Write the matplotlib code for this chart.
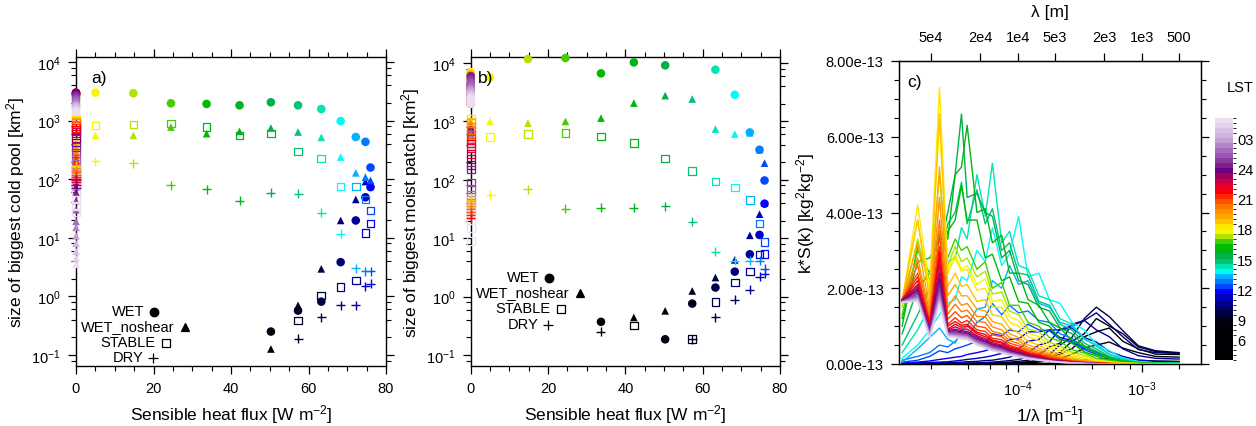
import numpy as np
import matplotlib
matplotlib.use("Agg")
import matplotlib.pyplot as plt
from matplotlib.colors import LinearSegmentedColormap, ListedColormap, BoundaryNorm
from matplotlib.ticker import FixedLocator, LogLocator, NullFormatter, NullLocator, FixedFormatter
import matplotlib.colorbar as mcolorbar

plt.rcParams['font.family'] = ['Liberation Sans', 'DejaVu Sans']
plt.rcParams['mathtext.fontset'] = 'custom'
plt.rcParams['mathtext.rm'] = 'Liberation Sans'
plt.rcParams['mathtext.it'] = 'Liberation Sans:italic'
plt.rcParams['mathtext.default'] = 'regular'

N = np.nan

# ── LST colour scale (half-hour boxes) ─────────────────────────────────────
CB_LST = [5.0, 8.6, 9.4, 10.0, 10.7, 11.3, 11.8, 12.3, 12.8, 13.3, 13.7, 14.2,
          14.7, 15.2, 16.0, 16.5, 17.0, 17.5, 18.0, 18.5, 19.0, 19.7, 20.2,
          20.7, 21.2, 21.7, 22.2, 22.7, 23.3, 23.8, 24.3, 24.8, 25.3, 25.8,
          26.3, 26.8, 27.3, 28.0, 29.0]
CB_HEX = ["#000000", "#000008", "#00002c", "#000060", "#000090", "#0000c8",
          "#0000ff", "#0050ff", "#0082ff", "#00b4ff", "#00ffff", "#00e6b4",
          "#00c878", "#00b050", "#00b400", "#00c000", "#80d800", "#e6f000",
          "#ffff00", "#ffd200", "#ffb400", "#ff9600", "#ff7800", "#ff5a00",
          "#ff3000", "#ff0000", "#f00020", "#d00040", "#a00060", "#6a0080",
          "#7d2090", "#8c3ca0", "#9a55b0", "#a86cbe", "#b585c8", "#c49dd2",
          "#d0b4dc", "#dcc8e6", "#eee4f4"]
CB_TICKS = [7.0, 9, 12, 15, 18, 21, 24, 27]
CB_LABELS = ["6", "9", "12", "15", "18", "21", "24", "03"]

# ── panels a, b: one point per half hour ───────────────────────────────────
LST = np.arange(6.25, 30.0, 0.5)
FLUX = np.array([5.0, 14.8, 24.5, 33.7, 42.2, 50.3, 57.3, 63.3, 68.3, 72.2, 74.7, 76.0,
                 76.0, 74.7, 72.2, 68.3, 63.3, 57.3, 50.3, 42.2, 33.7, 24.5, 14.8, 5.0]
                + [0.0] * 24)

# size of biggest cold pool [km2]
COLD_WET = ([N, N, N, N, N, 0.25, 0.57, 0.81, 3.83, 19.7, 49, 73,
             158, 433, 524, 980, 1575, 1820, 2050, 1820, 1920, 1970, 2930, 3000]
            + [2600, 2700, 2800, 2900, 2950, 3000, 2950, 2900, 2850, 2800, 2900, 3000,
               2700, 2500, 2300, 2100, 1900, 1800, 1700, 1600, 1500, 1400, 1300, 1200])
COLD_NOSHEAR = ([N, N, N, N, N, 0.126, 0.7, 2.94, 19.7, 45, 91, 88,
                 95, 108, 128, 238, 516, 637, 745, 653, 597, 774, 558, 558]
                + [450, 400, 350, 300, 250, 220, 200, 180, 150, 112, 90, 74,
                   60, 43, 30, 19, 15, 10.8, 8, 5.9, 4.5, 3.5, N, N])
COLD_STABLE = ([N, N, N, N, N, N, 0.386, 1.03, 1.43, 1.86, 12.1, 17.4,
                29, 45, 75, 75, 224, 298, 597, 558, 774, 884, 860, 828]
               + [1050, 1000, 950, 900, 850, 800, 750, 700, 650, 600, 500, 420,
                  350, 280, 220, 180, 150, 120, 100, 80, 60, 45, 35, 27])
COLD_DRY = ([N, N, N, N, N, N, 0.19, 0.44, 0.71, 0.71, 1.47, 1.63,
             2.69, 2.69, 3.0, 11.7, 26.7, 56, 58.5, 43, 67, 78, 188, 201]
            + [170, 160, 150, 140, 130, 120, 110, 100, 95, 90, 80, 70] + [N] * 12)

# size of biggest moist patch [km2]
MOIST_WET = ([N, N, N, 0.37, N, 0.186, 0.76, 1.43, 2.68, 5.3, 11.4, 39,
              97.5, 327, 648, 2860, 7690, N, 9120, 10260, 6650, 12190, 11700, 5680]
             + [7000, 6500, 5500, 4500, 3800, 3000, 2500, 2000, 2300, 2800, 3500, 4200,
                6000, 5200, 4600, 4000, 3600, 3300, 3000, 2800, 2600, 2400, 2200, 2000])
MOIST_NOSHEAR = ([N, N, N, N, 0.44, 0.57, 1.25, 2.12, 4.25, 11.2, 25.8, 40,
                  193, 330, 640, 607, 740, 2415, 2760, 2060, 1140, 1000, 935, 1000]
                 + [1050, 1000, 950, 900, 880, 850, 820, 800, 780, 760, 740, 720,
                    700, 650, 600, 560, 520, 480, 450, 420, 400, 380, 360, 340])
MOIST_STABLE = ([N, N, N, N, 0.32, N, 0.19, 0.81, 1.74, 2.68, 5.3, 5.4,
                 8.65, 17.8, 45.4, 74, 93.6, 143, 232, 425, 553, 631, 607, 546]
                + [1100, 1000, 950, 800, 700, 600, 500, 420, 350, 280, 230, 180,
                   150, 90, 70, 55, 45, 38, 33, 30, 25, 20, 15, 9])
MOIST_DRY = ([N, N, N, 0.25, N, N, 0.186, 0.44, 0.88, 1.3, 2.17, 2.48,
              3.0, 4.1, 4.1, 4.1, 5.9, 19, 35, 33, 33, 32, 69, 55]
             + [50, 45, 40, 36, 32, 28, 25, 22] + [N] * 16)

LEG_LABELS = ["WET", "WET_noshear", "STABLE", "DRY"]

# ── panel c: spectra k*S(k), wavenumber in 1e-5 m^-1, values in 1e-13 ──────
K_NODES = [1.17, 1.56, 1.95, 2.34, 2.73, 3.13, 3.52, 3.91, 4.69, 5.47, 6.25, 7.42,
           8.59, 10.16, 12.1, 14.8, 18.0, 21.9, 27.3, 34.4, 43.0, 54.7, 70.3, 93.8,
           128.9, 200.0]
SPEC_LST = [6.25, 7.25, 8.25, 8.75, 9.25, 9.75, 10.25, 10.75, 11.25, 11.75, 12.25,
            12.75, 13.25, 13.75, 14.25, 14.75, 15.25, 15.75, 16.25, 16.75, 17.25,
            17.75, 18.25, 18.75, 19.25, 19.75, 20.25, 20.75, 21.25, 21.75, 22.25,
            22.75, 23.25, 23.75, 24.25, 24.75, 25.25, 25.75, 26.25, 26.75, 27.25,
            27.75, 28.25]
SPEC = [
    [0, 0, 0, 0, 0, 0, 0, 0, 0, 0, 0, 0, 0, 0, 0, 0, .01, .01, .02, .03, .04, .05, .05, .04, .03, .03],
    [0, 0, 0, 0, 0, 0, 0, 0, 0, 0, 0, 0, 0, 0, .01, .01, .02, .04, .07, .1, .13, .14, .13, .1, .08, .07],
    [0, 0, 0, 0, 0, 0, 0, 0, 0, 0, .01, .01, .01, .02, .03, .05, .09, .15, .25, .42, .5, .58, .42, .3, .2, .18],
    [0, 0, 0, 0, 0, 0, 0, 0, 0, .01, .01, .01, .02, .03, .05, .08, .14, .26, .4, .72, .85, .95, .6, .4, .26, .25],
    [0, 0, 0, 0, 0, 0, 0, .01, .01, .01, .02, .02, .03, .04, .06, .1, .2, .3, .6, .8, 1.2, 1.0, .8, .45, .33, .28],
    [0, 0, 0, 0, 0, .01, .01, .01, .02, .02, .03, .04, .05, .07, .1, .18, .25, .5, .7, 1.2, 1.5, 1.25, .88, .48, .35, .3],
    [.01, .01, .01, .01, .02, .02, .02, .03, .03, .04, .05, .07, .09, .12, .18, .24, .45, .55, 1.05, 1.15, 1.35, 1.05, .72, .38, .3, .28],
    [.01, .02, .02, .03, .03, .04, .05, .06, .07, .09, .1, .14, .18, .26, .3, .5, .58, .92, 1.0, 1.15, .9, .72, .4, .22, .15, .13],
    [.02, .03, .04, .05, .06, .08, .1, .12, .15, .18, .22, .28, .38, .4, .6, .65, .9, .9, .95, .7, .58, .33, .2, .1, .07, .06],
    [.03, .05, .08, .12, .15, .18, .2, .25, .3, .35, .42, .48, .65, .66, .85, .85, .9, .7, .62, .42, .3, .18, .1, .05, .03, .03],
    [.05, .1, .2, .35, .3, .4, .45, .5, .6, .55, .8, .75, .9, .85, 1.05, .9, .88, .65, .57, .38, .25, .15, .08, .04, .02, .02],
    [.1, .2, .3, .5, .45, .6, .75, .7, 1.1, 1.25, 1.6, 1.3, 1.55, 1.35, 1.4, 1.15, 1.1, .8, .68, .43, .3, .15, .09, .04, .02, .02],
    [.05, .4, .7, .95, .65, .55, .9, 1.0, 1.45, 1.5, 2.2, 2.0, 2.6, 2.1, 2.2, 1.6, 1.5, 1.1, 1.0, .65, .5, .26, .15, .06, .03, .02],
    [.15, .5, .9, 1.3, 1.6, 1.7, 2.3, 2.2, 3.0, 2.7, 3.6, 2.6, 2.9, 3.9, 2.3, 2.4, 1.7, 1.6, 1.1, .9, .52, .35, .15, .07, .03, .02],
    [.3, .9, 1.5, 2.0, 2.7, 2.8, 3.6, 3.3, 5.0, 3.9, 5.3, 3.2, 3.5, 2.6, 2.5, 1.8, 1.7, 1.2, 1.05, .68, .47, .25, .13, .05, .02, .02],
    [.5, 1.3, 2.0, 2.6, 3.7, 4.0, 4.8, 3.7, 4.6, 3.7, 4.1, 3.0, 3.2, 2.4, 2.35, 1.65, 1.55, 1.05, .9, .55, .4, .2, .1, .04, .02, .01],
    [.8, 2.0, 2.4, 3.0, 4.0, 5.0, 6.6, 4.4, 4.5, 4.0, 3.9, 2.8, 3.0, 2.2, 2.1, 1.5, 1.4, .95, .8, .48, .34, .17, .08, .03, .02, .01],
    [1.2, 2.7, 2.8, 3.3, 3.3, 5.0, 5.2, 6.3, 4.0, 4.1, 3.2, 3.4, 2.4, 2.4, 1.7, 1.55, 1.1, .95, .62, .46, .26, .15, .07, .03, .01, .01],
    [1.0, 3.1, 2.2, 2.6, 3.5, 3.8, 4.7, 3.8, 3.8, 2.8, 2.9, 2.2, 2.3, 1.65, 1.6, 1.1, 1.0, .66, .55, .32, .21, .1, .05, .02, .01, .01],
    [1.3, 3.0, 2.4, 3.5, 2.8, 3.3, 3.0, 3.1, 2.5, 2.7, 2.0, 2.15, 1.55, 1.55, 1.1, 1.0, .7, .6, .38, .29, .15, .09, .04, .02, .01, .01],
    [1.5, 3.3, 2.0, 5.0, 2.6, 3.1, 2.7, 2.8, 2.3, 2.45, 1.85, 1.9, 1.4, 1.3, .92, .85, .57, .48, .31, .23, .12, .07, .03, .01, .01, 0],
    [1.6, 3.8, 1.9, 6.5, 2.5, 2.9, 2.5, 2.6, 2.1, 2.25, 1.65, 1.7, 1.25, 1.15, .82, .72, .5, .41, .26, .19, .1, .05, .02, .01, 0, 0],
    [1.65, 4.2, 2.0, 7.3, 2.4, 2.8, 2.45, 2.5, 1.95, 2.0, 1.5, 1.5, 1.1, 1.0, .72, .62, .42, .34, .22, .15, .08, .04, .02, .01, 0, 0],
    [1.7, 3.8, 1.7, 6.6, 2.05, 2.4, 2.05, 2.1, 1.65, 1.7, 1.3, 1.25, .95, .82, .6, .5, .34, .27, .17, .11, .06, .03, .01, 0, 0, 0],
    [1.7, 3.2, 1.5, 5.2, 1.8, 2.1, 1.8, 1.8, 1.45, 1.4, 1.12, 1.05, .8, .7, .5, .42, .28, .22, .13, .09, .05, .02, .01, 0, 0, 0],
    [1.7, 2.8, 1.35, 4.4, 1.5, 1.8, 1.55, 1.6, 1.25, 1.25, .98, .9, .7, .62, .43, .36, .24, .18, .11, .07, .04, .02, .01, 0, 0, 0],
    [1.7, 2.6, 1.25, 3.8, 1.32, 1.58, 1.38, 1.42, 1.12, 1.1, .86, .8, .62, .54, .38, .31, .21, .15, .09, .06, .03, .01, 0, 0, 0, 0],
    [1.7, 2.4, 1.15, 3.4, 1.18, 1.38, 1.22, 1.28, 1.0, .96, .77, .72, .55, .48, .34, .27, .18, .13, .08, .05, .03, .01, 0, 0, 0, 0],
    [1.7, 2.3, 1.1, 3.1, 1.05, 1.22, 1.08, 1.15, .9, .86, .68, .64, .49, .42, .3, .24, .15, .11, .07, .04, .02, .01, 0, 0, 0, 0],
    [1.7, 2.2, 1.05, 2.95, 1.0, 1.12, 1.02, 1.05, .84, .78, .63, .58, .45, .39, .28, .22, .14, .1, .06, .04, .02, .01, 0, 0, 0, 0],
    [1.7, 2.1, 1.0, 2.8, .92, 1.05, .97, 1.0, .8, .72, .6, .55, .42, .36, .26, .2, .13, .09, .06, .03, .02, .01, 0, 0, 0, 0],
    [1.69, 2.05, .97, 2.6, .9, .98, .92, .92, .75, .67, .56, .5, .4, .33, .24, .18, .12, .08, .05, .03, .01, 0, 0, 0, 0, 0],
    [1.68, 2.0, .95, 2.4, .88, .92, .88, .86, .72, .63, .53, .47, .37, .31, .22, .17, .11, .08, .05, .03, .01, 0, 0, 0, 0, 0],
    [1.67, 1.95, .9, 2.25, .86, .88, .85, .82, .68, .6, .5, .44, .35, .29, .21, .16, .1, .07, .04, .02, .01, 0, 0, 0, 0, 0],
    [1.66, 1.9, .88, 2.1, .84, .85, .82, .8, .65, .57, .48, .42, .33, .27, .2, .15, .1, .07, .04, .02, .01, 0, 0, 0, 0, 0],
    [1.65, 1.85, .85, 2.0, .83, .82, .8, .77, .62, .55, .46, .4, .31, .26, .19, .14, .09, .06, .04, .02, .01, 0, 0, 0, 0, 0],
    [1.65, 1.8, .82, 1.9, .82, .8, .78, .75, .6, .53, .44, .38, .3, .24, .18, .13, .09, .06, .04, .02, .01, 0, 0, 0, 0, 0],
    [1.64, 1.78, .79, 1.82, .8, .78, .76, .73, .58, .5, .42, .36, .28, .23, .17, .12, .08, .05, .03, .02, .01, 0, 0, 0, 0, 0],
    [1.64, 1.75, .76, 1.75, .78, .76, .74, .72, .56, .48, .4, .34, .27, .22, .16, .12, .08, .05, .03, .02, .01, 0, 0, 0, 0, 0],
    [1.63, 1.72, .74, 1.7, .76, .74, .72, .7, .54, .46, .38, .32, .26, .21, .15, .11, .07, .05, .03, .01, 0, 0, 0, 0, 0, 0],
    [1.63, 1.7, .72, 1.65, .75, .72, .7, .68, .53, .45, .37, .31, .25, .2, .15, .11, .07, .05, .03, .01, 0, 0, 0, 0, 0, 0],
    [1.62, 1.68, .7, 1.6, .73, .71, .68, .66, .51, .43, .36, .3, .24, .19, .14, .1, .07, .04, .02, .01, 0, 0, 0, 0, 0, 0],
    [1.62, 1.66, .68, 1.58, .72, .7, .66, .64, .5, .42, .35, .29, .23, .18, .14, .1, .07, .04, .02, .01, 0, 0, 0, 0, 0, 0],
]
LAM_TICKS = [5e4, 2e4, 1e4, 5e3, 2e3, 1e3, 500]
LAM_LABELS = ["5e4", "2e4", "1e4", "5e3", "2e3", "1e3", "500"]
C_YTICKS = [0, 2, 4, 6, 8]

# ── colour map: 48 half-hour boxes ─────────────────────────────────────────
edges = np.arange(5.0, 29.01, 0.5)
centers = 0.5 * (edges[:-1] + edges[1:])
_lin = LinearSegmentedColormap.from_list(
    "lst", list(zip((np.array(CB_LST) - 5.0) / 24.0, CB_HEX)))
box_cmap = ListedColormap(_lin((centers - 5.0) / 24.0))
box_norm = BoundaryNorm(edges, box_cmap.N)


def lst_color(t):
    return box_cmap(box_norm(np.clip(t, 5.01, 28.99)))


fig = plt.figure(figsize=(12.56, 4.27), dpi=100)
ax_a = fig.add_axes([76 / 1256, 60 / 427, 310 / 1256, 309 / 427])
ax_b = fig.add_axes([470.7 / 1256, 60 / 427, 309.3 / 1256, 309 / 427])
ax_c = fig.add_axes([899 / 1256, 62 / 427, 302 / 1256, 303 / 427])
cax = fig.add_axes([1215 / 1256, 66 / 427, 18 / 1256, 242 / 427])


def style_ticks(ax):
    ax.tick_params(which="both", direction="out", top=True, right=True, labelsize=10.5)
    ax.tick_params(which="major", length=6, width=0.9, pad=5)
    ax.tick_params(which="minor", length=3.5, width=0.8)
    for sp in ax.spines.values():
        sp.set_linewidth(1.0)


def draw_points(ax, sizes, marker, s, filled):
    y = np.array(sizes, dtype=float)
    ok = ~np.isnan(y)
    cols = lst_color(LST[ok])
    if marker == "+":
        ax.scatter(FLUX[ok], y[ok], s=s, marker="+", c=cols, linewidths=1.0,
                   clip_on=False, zorder=3)
    elif filled:
        ax.scatter(FLUX[ok], y[ok], s=s, marker=marker, c=cols, edgecolors="none",
                   clip_on=False, zorder=3)
    else:
        ax.scatter(FLUX[ok], y[ok], s=s, marker=marker, facecolors="none",
                   edgecolors=cols, linewidths=0.9, clip_on=False, zorder=3)


MARKERS = [("o", 38, True), ("^", 30, True), ("s", 30, False), ("+", 42, False)]

panels = [
    (ax_a, [COLD_WET, COLD_NOSHEAR, COLD_STABLE, COLD_DRY],
     "size of biggest cold pool [km$^2$]", "a)", (0.0646, 12160),
     [0.178, 0.129, 0.078, 0.029], 0.05, 135),
    (ax_b, [MOIST_WET, MOIST_NOSHEAR, MOIST_STABLE, MOIST_DRY],
     "size of biggest moist patch [km$^2$]", "b)", (0.0649, 12680),
     [0.288, 0.239, 0.188, 0.136], 0.024, 530),
]
legend_jobs = []
for ax, series, ylab, tag, ylim, leg_y, tag_x, leg_cx in panels:
    for ser, (mk, s, filled) in zip(series, MARKERS):
        draw_points(ax, ser, mk, s, filled)
    ax.set_yscale("log")
    ax.set_xlim(0, 80)
    ax.set_ylim(*ylim)
    ax.set_xticks([0, 20, 40, 60, 80])
    ax.xaxis.set_minor_locator(FixedLocator(np.arange(0, 81, 5)))
    ax.yaxis.set_major_locator(LogLocator(base=10, numticks=10))
    ax.yaxis.set_minor_locator(LogLocator(base=10, subs=[2, 4, 6, 8], numticks=10))
    ax.yaxis.set_minor_formatter(NullFormatter())
    style_ticks(ax)
    ax.set_xlabel("Sensible heat flux [W m$^{-2}$]", fontsize=12.5, labelpad=5)
    ax.set_ylabel(ylab, fontsize=12.5, labelpad=3)
    ax.text(tag_x, 0.934, tag, transform=ax.transAxes, fontsize=12.5,
            ha="left", va="center")
    legend_jobs.append((ax, leg_y, leg_cx))

# ── panel c ─────────────────────────────────────────────────────────────────
k = np.array(K_NODES) * 1e-5
for t, row in zip(SPEC_LST, SPEC):
    ax_c.plot(k, np.array(row) * 1e-13, color=lst_color(t), linewidth=1.0)

ax_c.set_xscale("log")
ax_c.set_xlim(1.104e-5, 3.0e-3)
ax_c.set_ylim(0, 8e-13)
ax_c.set_yticks(np.array(C_YTICKS) * 1e-13)
ax_c.set_yticklabels([f"{v:.2f}e-13" for v in C_YTICKS])
ax_c.yaxis.set_minor_locator(FixedLocator(np.arange(0, 8.01, 0.5) * 1e-13))
ax_c.xaxis.set_major_locator(LogLocator(base=10, numticks=10))
ax_c.xaxis.set_minor_locator(LogLocator(base=10, subs=[2, 4, 6, 8], numticks=10))
ax_c.xaxis.set_minor_formatter(NullFormatter())
style_ticks(ax_c)
ax_c.tick_params(which="both", top=False)
ax_c.set_xlabel("1/\u03bb [m$^{-1}$]", fontsize=12.5, labelpad=4)
ax_c.set_ylabel("k*S(k) [kg$^2$kg$^{-2}$]", fontsize=12.5, labelpad=6)
ax_c.text(0.026, 0.932, "c)", transform=ax_c.transAxes, fontsize=12.5,
          ha="left", va="center")

ax_top = ax_c.twiny()
ax_top.set_xscale("log")
ax_top.set_xlim(ax_c.get_xlim())
ax_top.xaxis.set_major_locator(FixedLocator([1.0 / v for v in LAM_TICKS]))
ax_top.xaxis.set_major_formatter(FixedFormatter(LAM_LABELS))
ax_top.xaxis.set_minor_locator(NullLocator())
ax_top.tick_params(which="major", direction="out", length=6, width=0.9,
                   labelsize=10.5, pad=6)
ax_top.set_xlabel("\u03bb [m]", fontsize=12.5, labelpad=10)

# ── colour bar ──────────────────────────────────────────────────────────────
cb = mcolorbar.ColorbarBase(cax, cmap=box_cmap, norm=box_norm,
                            boundaries=edges, orientation="vertical")
cb.outline.set_visible(False)
cb.set_ticks(CB_TICKS)
cb.set_ticklabels(CB_LABELS)
cax.tick_params(length=0, labelsize=10.5, pad=3)
fig.text(1240 / 1256, 1 - 88 / 427, "LST", fontsize=10.5, ha="center", va="center")

# ── text legends: label + black marker, group centred ──────────────────────
fig.canvas.draw()
renderer = fig.canvas.get_renderer()
H = 427
for ax, leg_y, leg_cx in legend_jobs:
    bb = ax.get_window_extent()
    for yy, lab, (mk, s, filled) in zip(leg_y, LEG_LABELS, MARKERS):
        ypx = bb.y0 + yy * bb.height
        t = fig.text(0, 0, lab, fontsize=10.5, ha="left", va="center")
        w = t.get_window_extent(renderer).width
        left = leg_cx - (w + 14) / 2.0
        t.set_position((left / 1256, ypx / H))
        mx = (left + w + 10) / 1256
        my = (ypx - 1) / H
        face = "black" if (filled or mk == "+") else "none"
        fig.add_artist(plt.Line2D([mx], [my], marker=mk, color="black",
                                  markerfacecolor=face, markersize=np.sqrt(s),
                                  mew=0.9, linestyle="none",
                                  transform=fig.transFigure))

fig.savefig("out.png", dpi=100)
